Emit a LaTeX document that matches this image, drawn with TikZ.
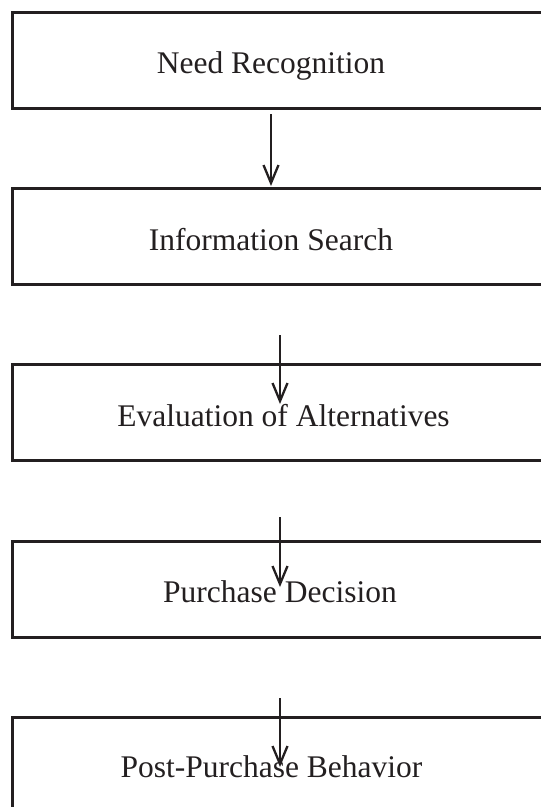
\documentclass[tikz,border=0pt]{standalone}
\usepackage{fontspec}
\setmainfont{Liberation Serif}
\usetikzlibrary{arrows.meta}
\definecolor{ink}{HTML}{231F20}
\tikzset{
  box/.style={draw=ink, line width=3pt, rectangle, minimum width=560pt, minimum height=96pt, inner sep=0pt},
  lbl/.style={anchor=base, text=ink, inner sep=0pt, font=\fontsize{31.5}{37}\selectfont},
  arr/.style={draw=ink, line width=2.3pt, -{Straight Barb[length=18pt,width=15pt,line width=2.3pt]}}
}
\begin{document}
\begin{tikzpicture}[x=1pt,y=-1pt]
\useasboundingbox (0,0) rectangle (541,807);
\clip (0,0) rectangle (541,807);
\node[box] (b1) at (292,60) {};
\node[box] (b2) at (292,236.5) {};
\node[box] (b3) at (292,412.5) {};
\node[box] (b4) at (292,589) {};
\node[box] (b5) at (292,765) {};
\node[lbl] (t1) at (271,73.5) {Need Recognition};
\node[lbl] (t2) at (271,250) {Information Search};
\node[lbl] (t3) at (283.5,426) {Evaluation of Alternatives};
\node[lbl] (t4) at (280,602) {Purchase Decision};
\node[lbl] (t5) at (271.5,777.5) {Post-Purchase Behavior};
\coordinate (s1) at (271,114);
\coordinate (e1) at (271,186);
\coordinate (s2) at (280,335);
\coordinate (e2) at (280,404);
\coordinate (s3) at (280,517);
\coordinate (e3) at (280,587);
\coordinate (s4) at (280,698);
\coordinate (e4) at (280,767);
\draw[arr] (s1) -- (e1);
\draw[arr] (s2) -- (e2);
\draw[arr] (s3) -- (e3);
\draw[arr] (s4) -- (e4);
\end{tikzpicture}
\end{document}
